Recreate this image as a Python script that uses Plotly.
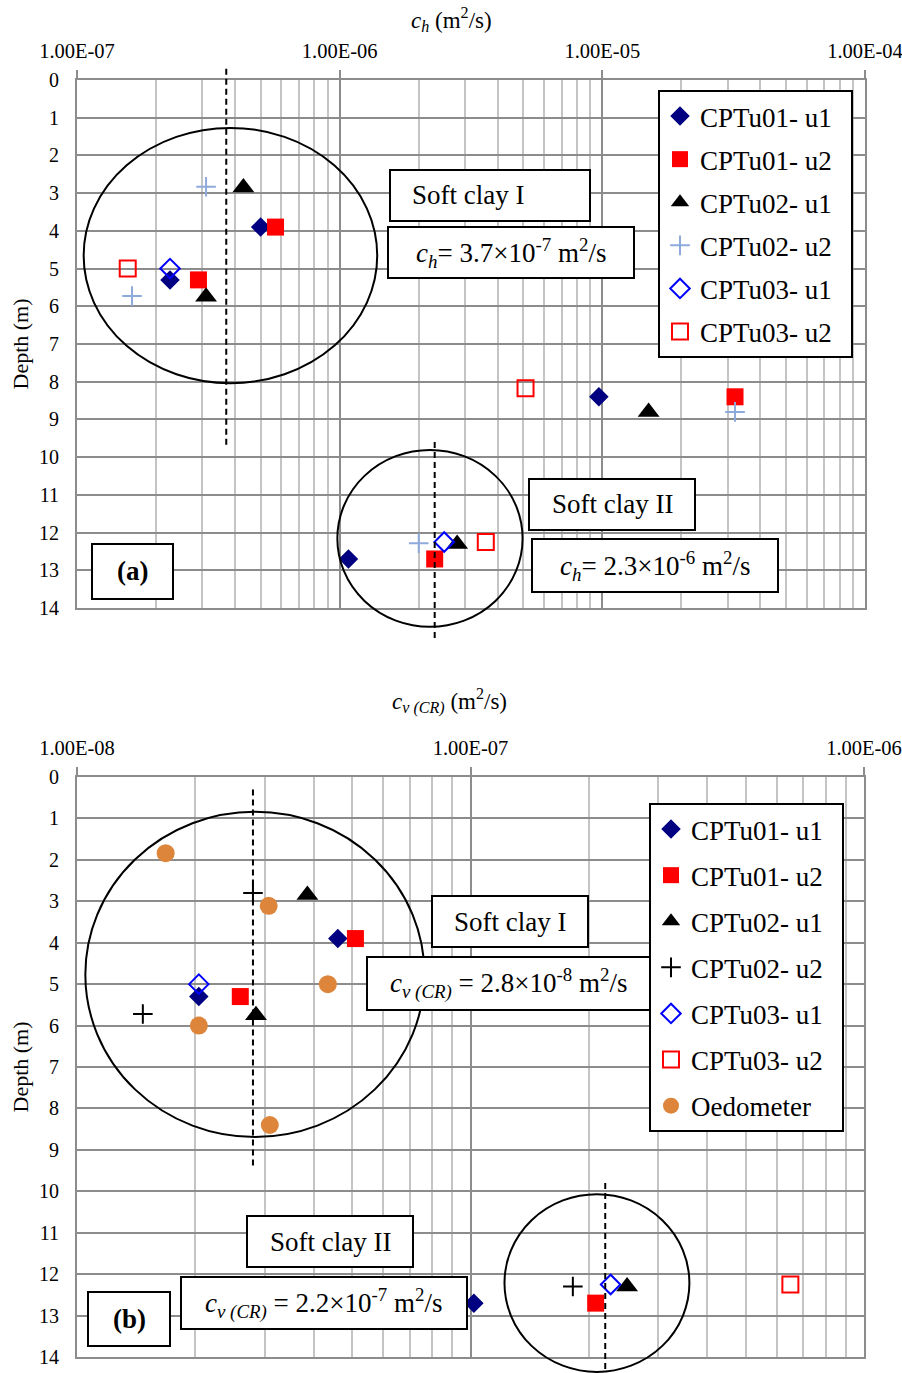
import plotly.graph_objects as go

W, H = 902, 1373
FONT = "Liberation Serif"
DEPTH_MAX = 14

# ---------------- (a) horizontal coefficient of consolidation c_h (m2/s) ----------------
ch_u1_01_x = [5.0e-7, 2.26e-7, 9.7e-6, 1.08e-6]
ch_u1_01_z = [3.9, 5.3, 8.4, 12.7]
ch_u2_01_x = [5.7e-7, 2.9e-7, 3.2e-5, 2.3e-6]
ch_u2_01_z = [3.9, 5.3, 8.4, 12.7]
ch_u1_02_x = [4.3e-7, 3.1e-7, 1.5e-5, 2.8e-6]
ch_u1_02_z = [2.85, 5.75, 8.8, 12.3]
ch_u2_02_x = [3.1e-7, 1.62e-7, 3.2e-5, 2.0e-6]
ch_u2_02_z = [2.83, 5.73, 8.8, 12.28]
ch_u1_03_x = [2.26e-7, 2.5e-6]
ch_u1_03_z = [5.0, 12.25]
ch_u2_03_x = [1.56e-7, 5.1e-6, 3.6e-6]
ch_u2_03_z = [5.0, 8.17, 12.25]

# representative c_h of each soft clay layer
ch_layer = [3.7e-7, 2.3e-6]

# ---------------- (b) vertical coefficient of consolidation c_v(CR) (m2/s) ----------------
cv_u1_01_x = [4.6e-8, 2.04e-8, 1.02e-7]
cv_u1_01_z = [3.9, 5.3, 12.7]
cv_u2_01_x = [5.1e-8, 2.6e-8, 2.08e-7]
cv_u2_01_z = [3.9, 5.3, 12.7]
cv_u1_02_x = [3.85e-8, 2.85e-8, 2.5e-7]
cv_u1_02_z = [2.85, 5.75, 12.3]
cv_u2_02_x = [2.8e-8, 1.47e-8, 1.82e-7]
cv_u2_02_z = [2.8, 5.72, 12.3]
cv_u1_03_x = [2.04e-8, 2.27e-7]
cv_u1_03_z = [5.0, 12.25]
cv_u2_03_x = [6.5e-7]
cv_u2_03_z = [12.25]
oedo_x = [1.68e-8, 3.07e-8, 4.34e-8, 2.04e-8, 3.09e-8]
oedo_z = [1.84, 3.11, 5.0, 6.0, 8.4]

# representative c_v(CR) of each soft clay layer
cv_layer = [2.8e-8, 2.2e-7]

# tick labels of the logarithmic axes
ch_ticks = [1e-7, 1e-6, 1e-5, 1e-4]
ch_ticktext = ["1.00E-07", "1.00E-06", "1.00E-05", "1.00E-04"]
cv_ticks = [1e-8, 1e-7, 1e-6]
cv_ticktext = ["1.00E-08", "1.00E-07", "1.00E-06"]

NAVY, RED, BLUE, LBLUE, OEDO = "#000080", "#FF0000", "#0000FF", "#8EA9DB", "#DD853B"
MAJOR, MINOR = "#8C8C8C", "#C4C4C4"
TXT = 27
PAD = "\u00a0\u00a0"  # a little room after legend labels


def px_x(p):
    return p / W


def px_y(p):
    return 1 - p / H


def zdom(z):
    """depth (m) -> fraction of the y-axis domain (0 = bottom, 1 = top)"""
    return 1 - z / DEPTH_MAX


def sci(v):
    m, e = f"{v:.1e}".split("e")
    return m, int(e)


fig = go.Figure()


def add_series(x, z, name, sym, color, size, xa, ya, legend, group, lw=0):
    marker = dict(symbol=sym, color=color, size=size,
                  line=dict(width=lw, color=color) if lw else dict(width=0))
    fig.add_trace(go.Scatter(
        x=x, y=z, mode="markers", name=name + PAD, marker=marker,
        xaxis=xa, yaxis=ya, legend=legend, legendgroup=group, cliponaxis=False,
    ))


series_a = [
    (ch_u1_01_x, ch_u1_01_z, "CPTu01- u1", "diamond", NAVY, 15, 0),
    (ch_u2_01_x, ch_u2_01_z, "CPTu01- u2", "square", RED, 17, 0),
    (ch_u1_02_x, ch_u1_02_z, "CPTu02- u1", "triangle-up", "black", 19, 0),
    (ch_u2_02_x, ch_u2_02_z, "CPTu02- u2", "cross-thin", LBLUE, 14, 2),
    (ch_u1_03_x, ch_u1_03_z, "CPTu03- u1", "diamond-open", BLUE, 15, 2),
    (ch_u2_03_x, ch_u2_03_z, "CPTu03- u2", "square-open", RED, 16, 2),
]
for i, (x, z, n, s, c, sz, lw) in enumerate(series_a):
    add_series(x, z, n, s, c, sz, "x", "y", "legend", f"a{i}", lw)

series_b = [
    (cv_u1_01_x, cv_u1_01_z, "CPTu01- u1", "diamond", NAVY, 15, 0),
    (cv_u2_01_x, cv_u2_01_z, "CPTu01- u2", "square", RED, 17, 0),
    (cv_u1_02_x, cv_u1_02_z, "CPTu02- u1", "triangle-up", "black", 19, 0),
    (cv_u2_02_x, cv_u2_02_z, "CPTu02- u2", "cross-thin", "black", 14, 2),
    (cv_u1_03_x, cv_u1_03_z, "CPTu03- u1", "diamond-open", BLUE, 15, 2),
    (cv_u2_03_x, cv_u2_03_z, "CPTu03- u2", "square-open", RED, 16, 2),
    (oedo_x, oedo_z, "Oedometer", "circle", OEDO, 18, 0),
]
for i, (x, z, n, s, c, sz, lw) in enumerate(series_b):
    add_series(x, z, n, s, c, sz, "x2", "y2", "legend2", f"b{i}", lw)


def minor_vals(decades):
    return [k * d for d in decades[:-1] for k in range(2, 10)]


def xaxis_cfg(ticks, text, domain, anchor):
    return dict(
        type="log", side="top", domain=domain, anchor=anchor, automargin=False,
        range=[sci(ticks[0])[1], sci(ticks[-1])[1]],
        tickmode="array", tickvals=ticks, ticktext=text,
        tickfont=dict(family=FONT, size=20.5, color="black"),
        ticks="outside", ticklen=8, tickwidth=2, tickcolor=MAJOR, ticklabelstandoff=4,
        ticklabeloverflow="allow",
        showgrid=True, gridcolor=MAJOR, gridwidth=2,
        minor=dict(tickmode="array", tickvals=minor_vals(ticks), showgrid=True,
                   gridcolor=MINOR, gridwidth=2, ticks=""),
        showline=True, linecolor=MAJOR, linewidth=2, mirror=True,
        zeroline=False,
    )


def yaxis_cfg(domain, anchor):
    return dict(
        domain=domain, anchor=anchor, range=[DEPTH_MAX, 0], automargin=False,
        tickmode="linear", tick0=0, dtick=1,
        tickfont=dict(family=FONT, size=20, color="black"),
        ticks="", ticklabelstandoff=12,
        showgrid=True, gridcolor=MAJOR, gridwidth=2,
        showline=True, linecolor=MAJOR, linewidth=2, mirror=True,
        title=dict(text="Depth (m)", font=dict(family=FONT, size=22, color="black"), standoff=4),
        zeroline=False,
    )


dom_xa = [px_x(77), px_x(865)]
dom_ya = [px_y(608), px_y(80)]
dom_xb = [px_x(77), px_x(864)]
dom_yb = [px_y(1357), px_y(777)]

shapes = []
annotations = []


def ellipse(xref, x0, x1, z0, z1):
    shapes.append(dict(type="circle", xref=xref, yref=xref.replace("x", "y") + " domain",
                       x0=x0, x1=x1, y0=zdom(z0), y1=zdom(z1),
                       line=dict(color="black", width=2), layer="above"))


def vdash(xref, xv, z0, z1):
    shapes.append(dict(type="line", xref=xref, yref=xref.replace("x", "y") + " domain",
                       x0=xv, x1=xv, y0=zdom(z0), y1=zdom(z1),
                       line=dict(color="black", width=2, dash="6px,4px"), layer="above"))


# grouping ellipses and layer averages
ellipse("x", 1.06e-7, 1.39e-6, 1.27, 8.04)
ellipse("x", 9.8e-7, 4.97e-6, 9.81, 14.5)
vdash("x", ch_layer[0], -0.3, 9.7)
vdash("x", ch_layer[1], 9.6, 14.8)
ellipse("x2", 1.05e-8, 7.64e-8, 0.84, 8.69)
ellipse("x2", 1.22e-7, 3.6e-7, 10.07, 14.36)
vdash("x2", cv_layer[0], 0.3, 9.45)
vdash("x2", cv_layer[1], 9.8, 14.6)


def label(xp, yp, text, size):
    annotations.append(dict(xref="paper", yref="paper", x=px_x(xp), y=px_y(yp),
                            xanchor="center", yanchor="middle", text=text, showarrow=False,
                            font=dict(family=FONT, size=size, color="black")))


# axis titles above the top tick labels
label(451, 19, "<i>c<sub>h</sub></i> (m<sup>2</sup>/s)", 23)
label(449, 701, "<i>c<sub>v (CR)</sub></i> (m<sup>2</sup>/s)", 23)


# text boxes (pixel extents on the page)
def textbox(x0, y0, x1, y1, text, left=None, size=TXT):
    shapes.append(dict(type="rect", xref="paper", yref="paper",
                       x0=px_x(x0), x1=px_x(x1), y0=px_y(y1), y1=px_y(y0),
                       fillcolor="white", line=dict(color="black", width=2), layer="above"))
    annotations.append(dict(xref="paper", yref="paper",
                            x=px_x((x0 + x1) / 2 if left is None else left),
                            y=px_y((y0 + y1) / 2),
                            xanchor="center" if left is None else "left", yanchor="middle",
                            text=text, showarrow=False,
                            font=dict(family=FONT, size=size, color="black")))


def ch_text(v):
    m, e = sci(v)
    return f"<i>c<sub>h</sub></i>= {m}×10<sup>{e}</sup> m<sup>2</sup>/s"


def cv_text(v):
    m, e = sci(v)
    return f"<i>c<sub>v (CR)</sub></i> = {m}×10<sup>{e}</sup> m<sup>2</sup>/s"


textbox(390, 170, 590, 221, "Soft clay I", left=410)
textbox(388, 227, 634, 278, ch_text(ch_layer[0]))
textbox(529, 479, 695, 530, "Soft clay II")
textbox(532, 539, 778, 592, ch_text(ch_layer[1]))
textbox(92, 544, 173, 599, "<b>(a)</b>")
textbox(432, 896, 588, 947, "Soft clay I")
textbox(367, 957, 652, 1010, cv_text(cv_layer[0]))
textbox(247, 1216, 413, 1267, "Soft clay II")
textbox(181, 1277, 467, 1329, cv_text(cv_layer[1]))
textbox(88, 1292, 170, 1346, "<b>(b)</b>")

legend_common = dict(xanchor="left", yanchor="top", bgcolor="white", bordercolor="black",
                     borderwidth=2, font=dict(family=FONT, size=TXT, color="black"),
                     traceorder="grouped")

fig.update_layout(
    width=W, height=H, margin=dict(l=0, r=0, t=0, b=0, autoexpand=False),
    paper_bgcolor="white", plot_bgcolor="white",
    font=dict(family=FONT, color="black"),
    showlegend=True,
    xaxis=xaxis_cfg(ch_ticks, ch_ticktext, dom_xa, "y"),
    yaxis=yaxis_cfg(dom_ya, "x"),
    xaxis2=xaxis_cfg(cv_ticks, cv_ticktext, dom_xb, "y2"),
    yaxis2=yaxis_cfg(dom_yb, "x2"),
    legend=dict(x=px_x(658), y=px_y(90), tracegroupgap=5, **legend_common),
    legend2=dict(x=px_x(649), y=px_y(803), tracegroupgap=8, **legend_common),
    shapes=shapes,
    annotations=annotations,
)

fig.write_html("out.html")
